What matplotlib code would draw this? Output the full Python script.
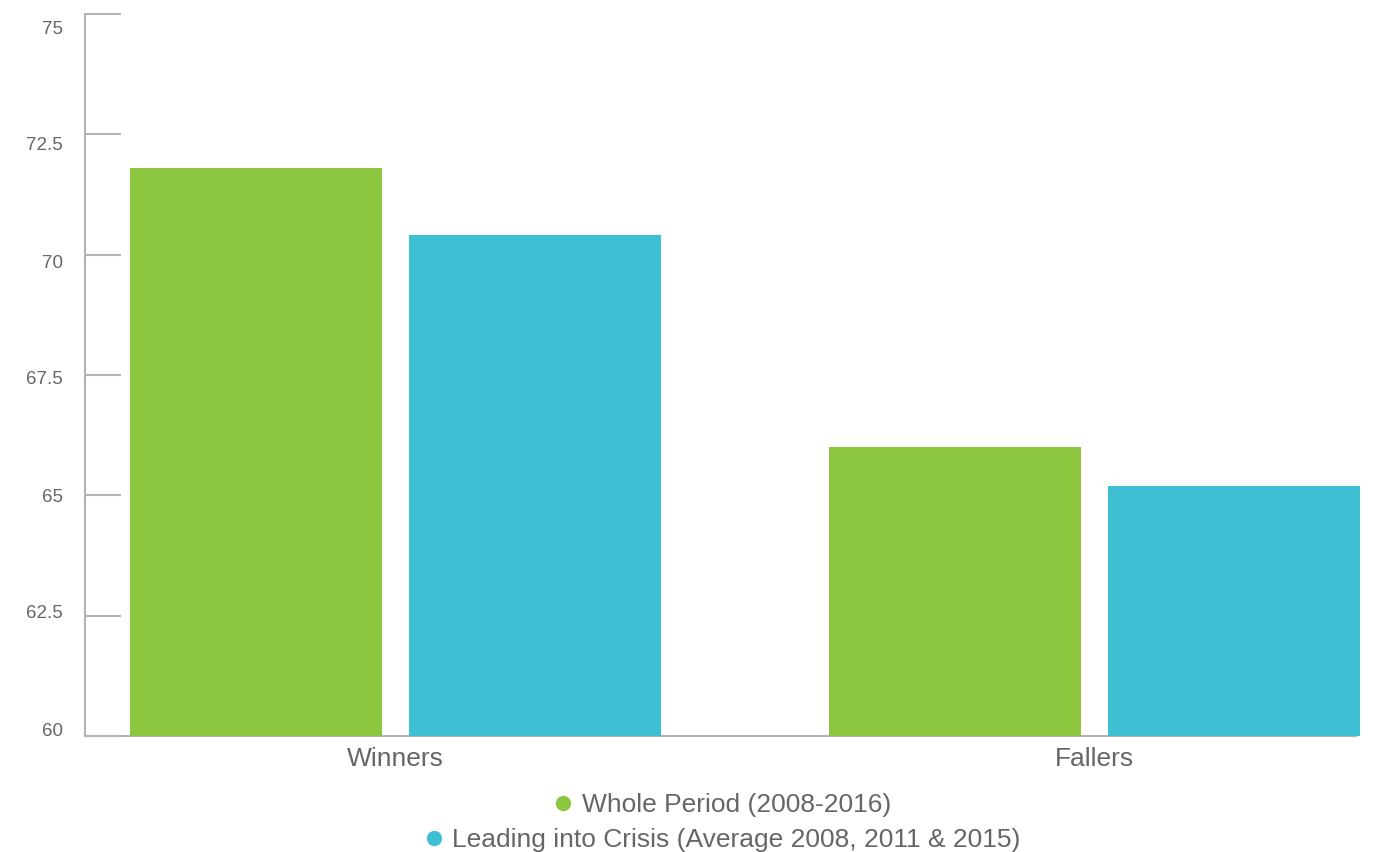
import numpy as np
import matplotlib
matplotlib.use("Agg")
import matplotlib.pyplot as plt
from matplotlib.transforms import ScaledTranslation
from matplotlib.lines import Line2D

# data
categories = ["Winners", "Fallers"]
whole_period = [71.8, 66.0]
leading_crisis = [70.4, 65.2]
series_names = ["Whole Period (2008-2016)",
                "Leading into Crisis (Average 2008, 2011 & 2015)"]
y_ticks = [60, 62.5, 65, 67.5, 70, 72.5, 75]
y_tick_labels = ["60", "62.5", "65", "67.5", "70", "72.5", "75"]

GREEN = "#8DC63F"
CYAN = "#3DBFD4"
AXIS_GREY = "#b4b4b8"
TEXT_GREY = "#666669"

plt.rcParams['font.family'] = ['Liberation Sans', 'DejaVu Sans']

fig = plt.figure(figsize=(13.76, 8.52), dpi=100)
ax = fig.add_axes([85 / 1376, 116 / 852, 1276 / 1376, 722 / 852])

x = np.arange(len(categories))
width = 0.36
offset = 0.1993
ax.bar(x - offset, whole_period, width, color=GREEN, zorder=3)
ax.bar(x + offset, leading_crisis, width, color=CYAN, zorder=3)

ax.set_xlim(-0.4435, 1.3807)
ax.set_ylim(60, 75)

ax.set_xticks(x)
ax.set_xticklabels(categories, fontsize=19, color=TEXT_GREY)
ax.tick_params(axis='x', length=0, pad=8)

ax.set_yticks(y_ticks)
ax.set_yticklabels(y_tick_labels, fontsize=13.5, color=TEXT_GREY)
ax.tick_params(axis='y', direction='in', length=26, width=1.5,
               color=AXIS_GREY, pad=16)

# labels in the original drift slightly from their ticks
for lab, v in zip(ax.get_yticklabels(), y_ticks):
    off = -7 + (v - 60) * 20 / 15
    lab.set_transform(lab.get_transform() +
                      ScaledTranslation(0, -off / 100, fig.dpi_scale_trans))

for side in ['top', 'right']:
    ax.spines[side].set_visible(False)
for side in ['left', 'bottom']:
    ax.spines[side].set_color(AXIS_GREY)
    ax.spines[side].set_linewidth(1.5)
ax.spines['bottom'].set_bounds(-0.4435, 1.3736)

# legend: one centered row per series
colors = [GREEN, CYAN]
rows_y = [0.0552, 0.0141]
for name, c, yy in zip(series_names, colors, rows_y):
    h = Line2D([], [], marker='o', linestyle='none', markersize=10,
               markerfacecolor=c, markeredgecolor=c)
    leg = fig.legend([h], [name], loc='center', bbox_to_anchor=(723 / 1376, yy),
                     frameon=False, fontsize=19, handlelength=0.6,
                     handletextpad=0.4, borderpad=0, borderaxespad=0)
    for t in leg.get_texts():
        t.set_color(TEXT_GREY)

fig.savefig("out.png", dpi=100)
